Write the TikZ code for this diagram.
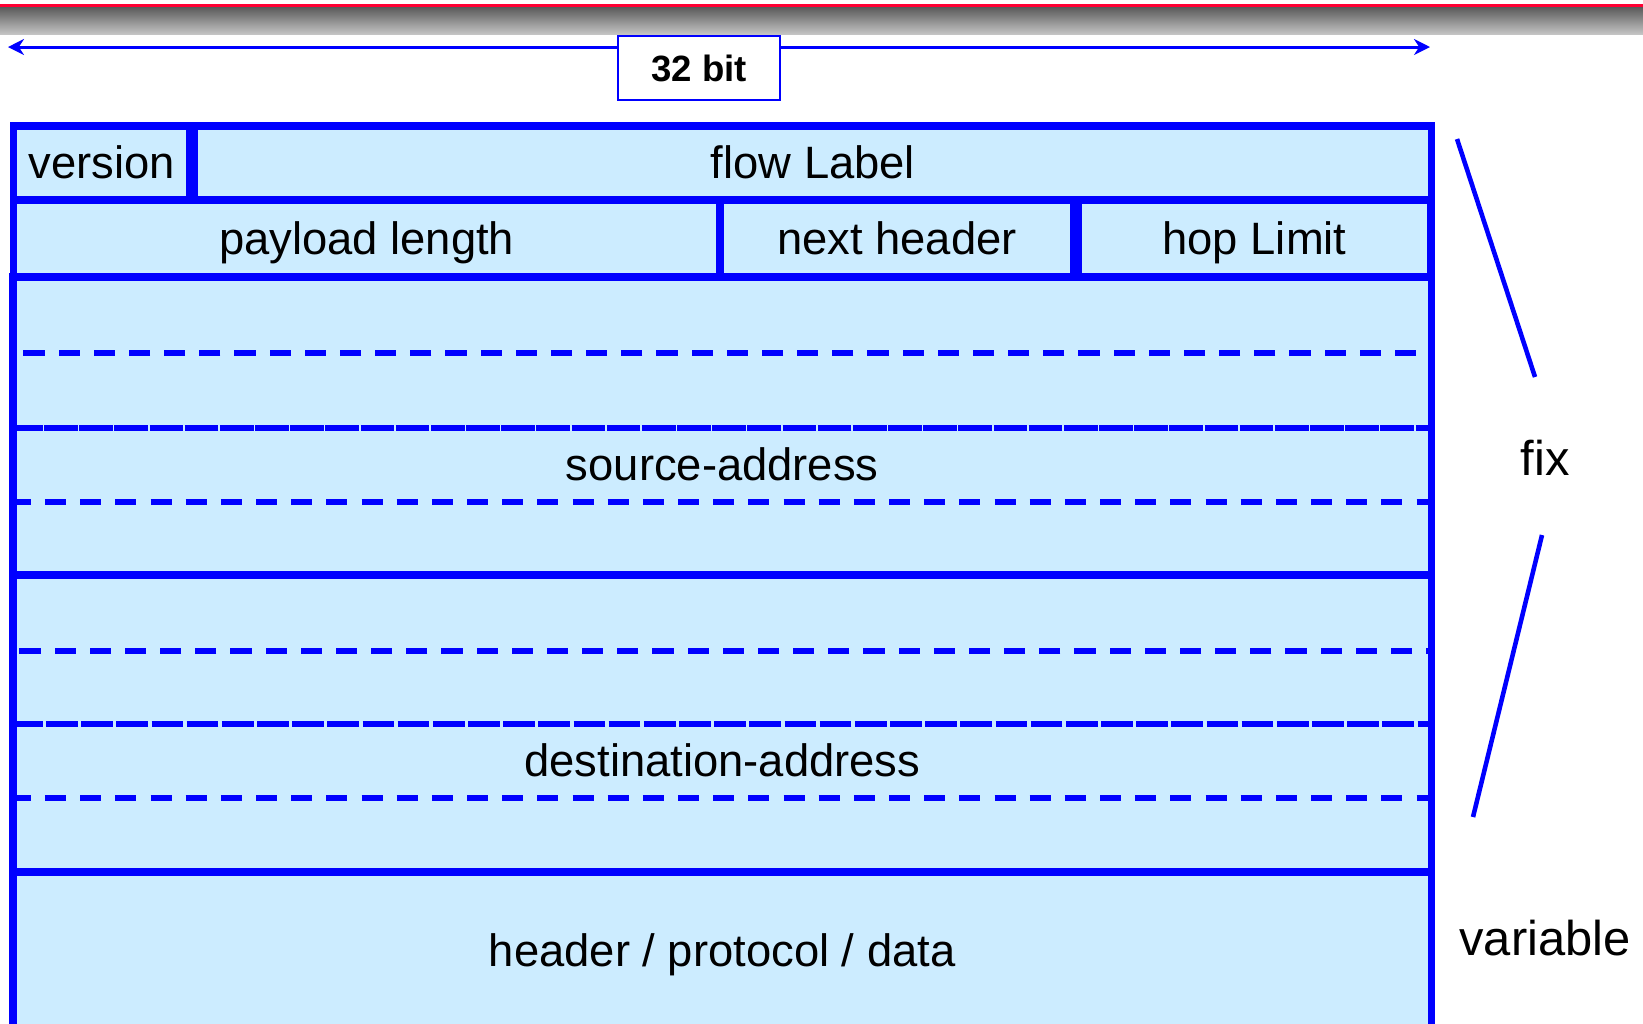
\documentclass[tikz,border=0pt]{standalone}
\usepackage{fontspec}
\setmainfont{Liberation Sans}
\usepackage{tikz}
\usetikzlibrary{arrows.meta,shapes}
\definecolor{hdrblue}{RGB}{0,0,255}
\definecolor{hdrfill}{RGB}{204,236,255}
\definecolor{barred}{RGB}{255,0,51}
\definecolor{bandtop}{RGB}{92,92,92}
\definecolor{bandbot}{RGB}{196,196,196}
\tikzstyle{hdrfield}=[rectangle,draw=hdrblue,fill=hdrfill,line width=2.1pt,inner sep=0pt,outer sep=0pt,text height=9.3pt,text depth=0.3pt,font=\fontsize{12.9}{15}\selectfont]
\tikzstyle{fieldtext}=[inner sep=0pt,text height=9.3pt,text depth=0.3pt,font=\fontsize{12.9}{15}\selectfont]
\tikzstyle{subrow}=[draw=hdrblue,line width=1.5pt,dash pattern=on 6pt off 4pt]
\tikzstyle{bitbox}=[rectangle,draw=hdrblue,fill=white,line width=0.7pt,minimum width=1.62cm,minimum height=0.64cm,font=\fontsize{10.4}{12}\selectfont\bfseries]
\tikzstyle{widtharrow}=[draw=hdrblue,line width=0.85pt,{Stealth[length=1.6mm,width=1.6mm]}-{Stealth[length=1.6mm,width=1.6mm]}]
\tikzstyle{fixline}=[draw=hdrblue,line width=1.3pt]
\tikzstyle{sidelabel}=[inner sep=0pt,font=\fontsize{13.9}{16}\selectfont]

\begin{document}
\begin{tikzpicture}[x=0.01cm,y=-0.01cm]
    \clip (0,0) rectangle (1643,1023);
    % title bar
    \fill[barred] (0,4) rectangle (1643,7.5);
    \shade[top color=bandtop,bottom color=bandbot] (0,7.5) rectangle (1643,34);

    % word width
    \coordinate (bitL) at (8,47);
    \coordinate (bitR) at (1430,47);
    \draw[widtharrow] (bitL) -- (bitR);
    \node[bitbox] (bits) at (699,68) {32 bit};

    % header fields
    \foreach \pos/\name/\w/\h/\txt in {{(722.25,426)/src/14.175/2.98/{}}, {(722.25,723.5)/dst/14.175/2.97/{}}, {(722.25,951)/data/14.175/1.58/{header / protocol / data}}, {(101.75,163)/ver/1.765/0.74/version}, {(813,163)/flow/12.36/0.74/{flow Label}}, {(366.75,238.5)/plen/7.065/0.77/{payload length}}, {(897,238.5)/nxt/3.54/0.77/{next header}}, {(1254.5,238.5)/hop/3.53/0.77/{hop Limit}}}
        \node[hdrfield,minimum width=\w cm,minimum height=\h cm] (\name) at \pos {\txt};

    % address words
    \foreach \top/\bot in {353/428, 428/502, 651/724, 724/798}
        \draw[subrow] (13.5,\top) rectangle (1431,\bot);
    \node[fieldtext] (srctxt) at (722.25,465) {source-address};
    \node[fieldtext] (dsttxt) at (722.25,761) {destination-address};

    % fix / variable
    \coordinate (fixA) at (1457,139);
    \coordinate (fixB) at (1535,377);
    \coordinate (fixC) at (1542,535);
    \coordinate (fixD) at (1473,817);
    \draw[fixline] (fixA) -- (fixB);
    \draw[fixline] (fixC) -- (fixD);
    \node[sidelabel] (fix) at (1545,458) {fix};
    \node[sidelabel] (var) at (1545,938) {variable};
\end{tikzpicture}
\end{document}
